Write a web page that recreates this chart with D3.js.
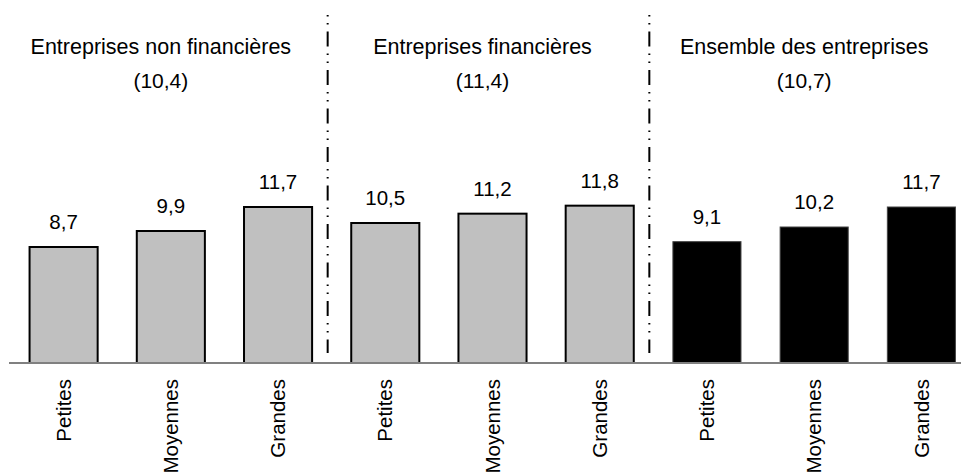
<!DOCTYPE html>
<html>
<head>
<meta charset="utf-8">
<script src="https://cdn.jsdelivr.net/npm/d3@7"></script>
<style>
  body { margin: 0; background: #fff; }
  svg text { font-family: "Liberation Sans", Arial, sans-serif; fill: #000; }
</style>
</head>
<body>
<div id="chart"></div>
<script>
// data
var groups = ["Entreprises non financières", "Entreprises financières", "Ensemble des entreprises"];
var groupTotals = ["(10,4)", "(11,4)", "(10,7)"];
var sizes = ["Petites", "Moyennes", "Grandes"];
var values = [8.7, 9.9, 11.7, 10.5, 11.2, 11.8, 9.1, 10.2, 11.7];
var valueLabels = ["8,7", "9,9", "11,7", "10,5", "11,2", "11,8", "9,1", "10,2", "11,7"];

var width = 961, height = 476;
var baseline = 363;

var svg = d3.select("#chart")
  .append("svg")
    .attr("width", width)
    .attr("height", height);

// one entry per bar
var bars = values.map(function(v, i) {
  return {i: i, group: Math.floor(i / 3), size: sizes[i % 3], value: v, label: valueLabels[i]};
});

var x = d3.scaleBand()
  .domain(d3.range(values.length))
  .range([10, 975])
  .paddingInner(0.365)
  .paddingOuter(0.1825);

var y = d3.scaleLinear()
  .domain([0, 12])
  .range([baseline, baseline - 160]);

// separators between groups (dash dot dot)
var seps = [3, 6];
svg.append("g")
  .selectAll("line")
  .data(seps)
  .enter()
  .append("line")
    .attr("x1", function(d) { return x(d) - x.step() * x.paddingInner() / 2 - 4; })
    .attr("x2", function(d) { return x(d) - x.step() * x.paddingInner() / 2 - 4; })
    .attr("y1", 15)
    .attr("y2", 353)
    .attr("stroke", "#000")
    .attr("stroke-width", 2)
    .attr("stroke-dasharray", "1.5,6.5,1.5,7,15,7");

// bars
svg.append("g")
  .selectAll("rect")
  .data(bars)
  .enter()
  .append("rect")
    .attr("x", function(d) { return x(d.i); })
    .attr("y", function(d) { return y(d.value); })
    .attr("width", x.bandwidth())
    .attr("height", function(d) { return y(0) - y(d.value); })
    .attr("fill", function(d) { return d.group == 2 ? "#000" : "#c0c0c0"; })
    .attr("stroke", function(d) { return d.group == 2 ? "#444" : "#000"; })
    .attr("stroke-width", function(d) { return d.group == 2 ? 1 : 2; });

// x axis line
svg.append("line")
  .attr("x1", 9)
  .attr("x2", width)
  .attr("y1", y(0))
  .attr("y2", y(0))
  .attr("stroke", "#808080")
  .attr("stroke-width", 2);

// value labels
svg.append("g")
  .selectAll("text")
  .data(bars)
  .enter()
  .append("text")
    .attr("x", function(d) { return x(d.i) + x.bandwidth() / 2; })
    .attr("y", function(d) { return y(d.value) - 18; })
    .attr("text-anchor", "middle")
    .style("font-size", "20.5px")
    .text(function(d) { return d.label; });

// category labels, rotated
svg.append("g")
  .selectAll("text")
  .data(bars)
  .enter()
  .append("text")
    .attr("transform", function(d) {
      return "translate(" + (x(d.i) + x.bandwidth() / 2) + "," + (y(0) + 16) + ")rotate(-90)";
    })
    .attr("dy", "0.35em")
    .attr("text-anchor", "end")
    .style("font-size", "20.5px")
    .text(function(d) { return d.size; });

// group titles
var groupCenter = function(g) {
  return (x(g * 3) + x(g * 3 + 2) + x.bandwidth()) / 2 - 10;
};
svg.append("g")
  .selectAll("text")
  .data(groups)
  .enter()
  .append("text")
    .attr("x", function(d, g) { return groupCenter(g); })
    .attr("y", 54)
    .attr("text-anchor", "middle")
    .style("font-size", "21.5px")
    .text(function(d) { return d; });

svg.append("g")
  .selectAll("text")
  .data(groupTotals)
  .enter()
  .append("text")
    .attr("x", function(d, g) { return groupCenter(g); })
    .attr("y", 88)
    .attr("text-anchor", "middle")
    .style("font-size", "21px")
    .text(function(d) { return d; });
</script>
</body>
</html>
